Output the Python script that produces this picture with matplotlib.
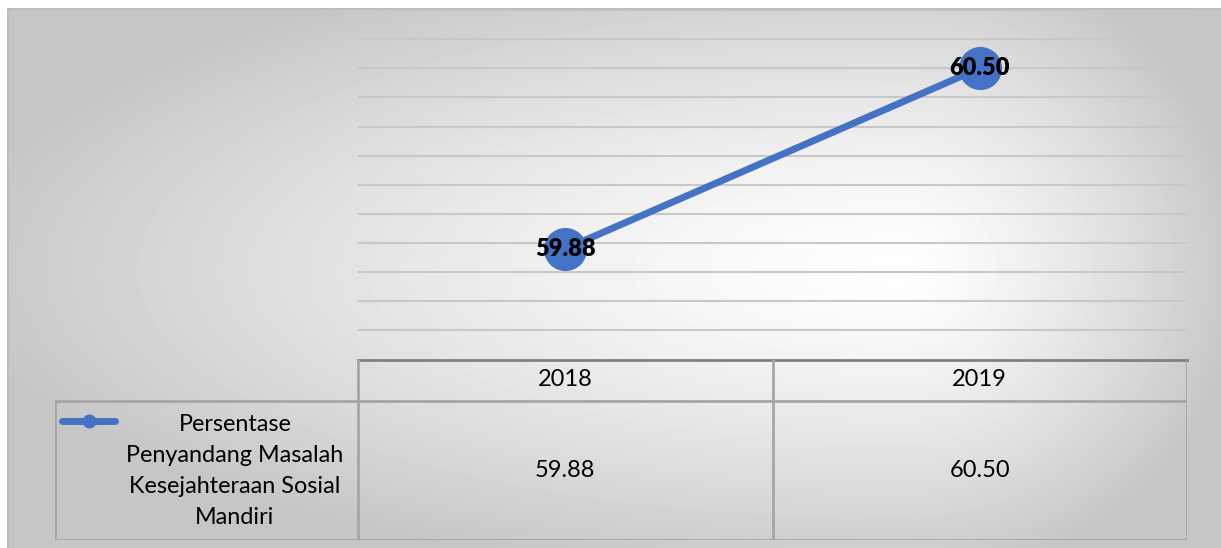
import numpy as np
import matplotlib.pyplot as plt
from matplotlib.lines import Line2D

plt.rcParams['font.family'] = ['Lato', 'DejaVu Sans']

years = ['2018', '2019']
values = [59.88, 60.50]
series_name = 'Persentase\nPenyandang Masalah\nKesejahteraan Sosial\nMandiri'
blue = '#4472C4'

W, H = 1221, 548
fig = plt.figure(figsize=(W / 100, H / 100), dpi=100)
fig.patch.set_facecolor('white')

# chart area background: soft radial fill, white centre fading to grey
bg = fig.add_axes([8 / W, 0, 1 - 8 / W, 1 - 9 / H])
px = np.arange(8, W)
py = np.arange(9, H)
X, Y = np.meshgrid(px, py)
cx, cy = 900, 270
dx = np.where(X < cx, (X - cx) / 950, (X - cx) / 340)
dy = np.where(Y < cy, (Y - cy) / 330, (Y - cy) / 310)
t = np.clip(np.sqrt(dx ** 2 + dy ** 2), 0, 1) ** 1.3
shade = 1 - t * (1 - 0xc6 / 255)
bg.imshow(shade, cmap='gray', vmin=0, vmax=1, aspect='auto', interpolation='bilinear')
bg.set_axis_off()
fig.add_artist(Line2D([8 / W, 8 / W], [0, 1 - 9 / H], color='#bdbdbd', lw=1.5))
fig.add_artist(Line2D([8 / W, 1], [1 - 9 / H, 1 - 9 / H], color='#bdbdbd', lw=1.5))

# line chart
left, right = 358 / W, 1187 / W
ax = fig.add_axes([left, 1 - 359.5 / H, right - left, (359.5 - 10) / H])
ax.set_facecolor('none')
xs = np.arange(len(years))
ax.plot(xs, values, color=blue, lw=5, marker='o', markersize=30,
        markerfacecolor=blue, markeredgecolor=blue, solid_capstyle='round', zorder=3)
for x, v in zip(xs, values):
    ax.text(x, v, f'{v:.2f}', ha='center', va='center', fontsize=17,
            fontweight='heavy', color='black', zorder=4)
ax.set_xlim(-0.5, len(years) - 0.5)
ax.set_ylim(59.5, 60.7)
ax.set_yticks(np.arange(59.6, 60.71, 0.1))
ax.yaxis.grid(True, color='#c8c8c8', lw=1.5)
ax.set_axisbelow(True)
ax.tick_params(left=False, bottom=False, labelleft=False, labelbottom=False)
for s in ['left', 'right', 'top']:
    ax.spines[s].set_visible(False)
ax.spines['bottom'].set_color('#808080')
ax.spines['bottom'].set_linewidth(2)

# data table below the plot
tl = 55 / W
tab = fig.add_axes([tl, 1 - 540 / H, right - tl, (540 - 359.5) / H])
tab.set_facecolor('none')
col_w = (1187 - 358) / len(years)
x0 = -0.5 - (358 - 55) / col_w
tab.set_xlim(x0, len(years) - 0.5)
tab.set_ylim(0, 1)
tab.set_axis_off()
hdr = 1 - (400.5 - 359.5) / (540 - 359.5)
grid_c = '#a6a6a6'
tab.plot([x0, len(years) - 0.5], [hdr, hdr], color=grid_c, lw=2)
tab.plot([x0, len(years) - 0.5], [0, 0], color=grid_c, lw=2)
tab.plot([x0, x0], [0, hdr], color=grid_c, lw=2)
for k in range(len(years) + 1):
    tab.plot([k - 0.5, k - 0.5], [0, 1], color=grid_c, lw=2)
for x, yr, v in zip(xs, years, values):
    tab.text(x, (hdr + 1) / 2, yr, ha='center', va='center', fontsize=17)
    tab.text(x, hdr / 2, f'{v:.2f}', ha='center', va='center', fontsize=17)

# legend key and series name
kx = lambda p: x0 + (p - 55) / col_w
ky = 1 - (421 - 359.5) / 180.5
tab.plot([kx(62), kx(115)], [ky, ky], color=blue, lw=5, solid_capstyle='round')
tab.plot([kx(89)], [ky], 'o', color=blue, markersize=9)
tab.text(kx(235), 1 - (471 - 359.5) / 180.5, series_name, ha='center', va='center',
         fontsize=16.8, linespacing=1.6)

fig.savefig('out.png', dpi=100)
